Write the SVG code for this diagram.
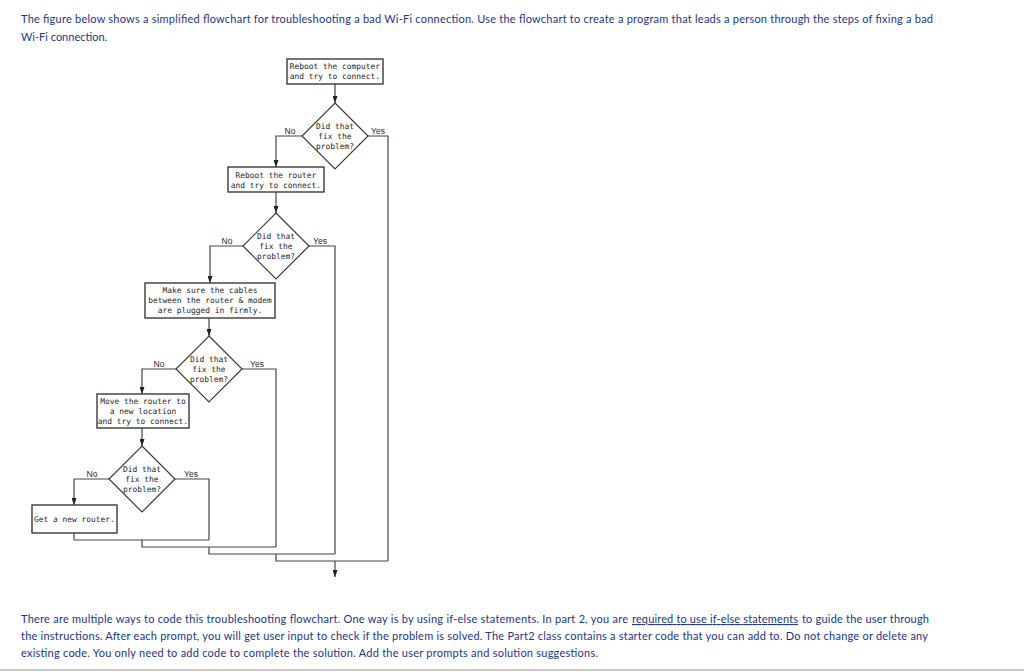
<svg xmlns="http://www.w3.org/2000/svg" width="1024" height="672" viewBox="0 0 1024 672">
<defs>
<style>
.para{font-family:Lato,"Open Sans","Liberation Sans",sans-serif;font-size:11px;fill:#22358a}
.box{fill:#fff;stroke:#3a3a3a;stroke-width:1.4}
.dia{fill:#fff;stroke:#3a3a3a;stroke-width:1.2}
.t{font-family:"DejaVu Sans Mono","Liberation Mono",monospace;font-size:7.9px;fill:#1e1e1e;text-anchor:middle}
.lbl{font-family:"Liberation Sans","DejaVu Sans",sans-serif;font-size:8.5px;fill:#2a2a2a;text-anchor:middle}
.c{fill:none;stroke:#444;stroke-width:1.2}
.a{marker-end:url(#arr)}
</style>
<marker id="arr" viewBox="0 0 10 10" refX="10" refY="5" markerWidth="7" markerHeight="5" markerUnits="userSpaceOnUse" orient="auto" preserveAspectRatio="none">
<path d="M0,0 L10,5 L0,10 z" fill="#222"/>
</marker>
</defs>
<rect width="1024" height="672" fill="#fff"/>

<g id="intro">
<text class="para" x="21" y="23" textLength="912" lengthAdjust="spacing">The figure below shows a simplified flowchart for troubleshooting a bad Wi-Fi connection. Use the flowchart to create a program that leads a person through the steps of fixing a bad</text>
<text class="para" x="21" y="41">Wi-Fi connection.</text>
</g>

<g id="connectors">
<path class="c a" d="M335,84 V103"/>
<path class="c a" d="M302,136 H276 V167"/>
<path class="c a" d="M276,192 V213"/>
<path class="c a" d="M243,246 H210 V283"/>
<path class="c a" d="M209,318 V336"/>
<path class="c a" d="M176,369 H142 V394"/>
<path class="c a" d="M142,428 V446"/>
<path class="c a" d="M109,479 H74 V505"/>
<path class="c" d="M175,479 H209 V540"/>
<path class="c" d="M74,533 V540 H209"/>
<path class="c" d="M142,540 V547 H276"/>
<path class="c" d="M242,369 H276 V547"/>
<path class="c" d="M209,547 V554 H335"/>
<path class="c" d="M309,246 H335 V554"/>
<path class="c" d="M276,554 V561 H388"/>
<path class="c" d="M368,136 H388 V561"/>
<path class="c a" d="M335,561 V577"/>
</g>

<g id="box1">
<rect class="box" x="287" y="59" width="96" height="25"/>
<text class="t" x="335" y="68.5">Reboot the computer</text>
<text class="t" x="335" y="78.5">and try to connect.</text>
</g>
<g id="dec1">
<polygon class="dia" points="335,103 368,136 335,169 302,136"/>
<text class="t" x="335" y="128.5">Did that</text>
<text class="t" x="335" y="138.5">fix the</text>
<text class="t" x="335" y="148.5">problem?</text>
<text class="lbl" x="290" y="134">No</text>
<text class="lbl" x="378" y="134">Yes</text>
</g>

<g id="box2">
<rect class="box" x="228" y="167" width="96" height="25"/>
<text class="t" x="276" y="177.5">Reboot the router</text>
<text class="t" x="276" y="187.5">and try to connect.</text>
</g>
<g id="dec2">
<polygon class="dia" points="276,213 309,246 276,279 243,246"/>
<text class="t" x="276" y="238.5">Did that</text>
<text class="t" x="276" y="248.5">fix the</text>
<text class="t" x="276" y="258.5">problem?</text>
<text class="lbl" x="227" y="244">No</text>
<text class="lbl" x="320" y="244">Yes</text>
</g>

<g id="box3">
<rect class="box" x="145" y="283" width="130" height="35"/>
<text class="t" x="210" y="292.5">Make sure the cables</text>
<text class="t" x="210" y="302.5">between the router &amp; modem</text>
<text class="t" x="210" y="312.5">are plugged in firmly.</text>
</g>
<g id="dec3">
<polygon class="dia" points="209,336 242,369 209,402 176,369"/>
<text class="t" x="209" y="361.5">Did that</text>
<text class="t" x="209" y="371.5">fix the</text>
<text class="t" x="209" y="381.5">problem?</text>
<text class="lbl" x="159" y="367">No</text>
<text class="lbl" x="257" y="367">Yes</text>
</g>

<g id="box4">
<rect class="box" x="97" y="394" width="92" height="34"/>
<text class="t" x="143" y="403.5">Move the router to</text>
<text class="t" x="143" y="413.5">a new location</text>
<text class="t" x="143" y="423.5">and try to connect.</text>
</g>
<g id="dec4">
<polygon class="dia" points="142,446 175,479 142,512 109,479"/>
<text class="t" x="142" y="471.5">Did that</text>
<text class="t" x="142" y="481.5">fix the</text>
<text class="t" x="142" y="491.5">problem?</text>
<text class="lbl" x="92" y="477">No</text>
<text class="lbl" x="191" y="477">Yes</text>
</g>

<g id="box5">
<rect class="box" x="32" y="505" width="85" height="28"/>
<text class="t" x="74.5" y="521.5">Get a new router.</text>
</g>

<g id="outro">
<text class="para" x="21" y="623" textLength="607" lengthAdjust="spacing">There are multiple ways to code this troubleshooting flowchart. One way is by using if-else statements. In part 2, you are</text>
<text class="para" x="632" y="623" textLength="166" lengthAdjust="spacing" style="text-decoration:underline">required to use if-else statements</text>
<text class="para" x="802" y="623" textLength="127" lengthAdjust="spacing">to guide the user through</text>
<text class="para" x="21" y="640" textLength="907" lengthAdjust="spacing">the instructions. After each prompt, you will get user input to check if the problem is solved. The Part2 class contains a starter code that you can add to. Do not change or delete any</text>
<text class="para" x="21" y="657" textLength="577" lengthAdjust="spacing">existing code. You only need to add code to complete the solution. Add the user prompts and solution suggestions.</text>
</g>
<line x1="0" y1="670" x2="1024" y2="670" stroke="#c8c8c8" stroke-width="2"/>
</svg>
